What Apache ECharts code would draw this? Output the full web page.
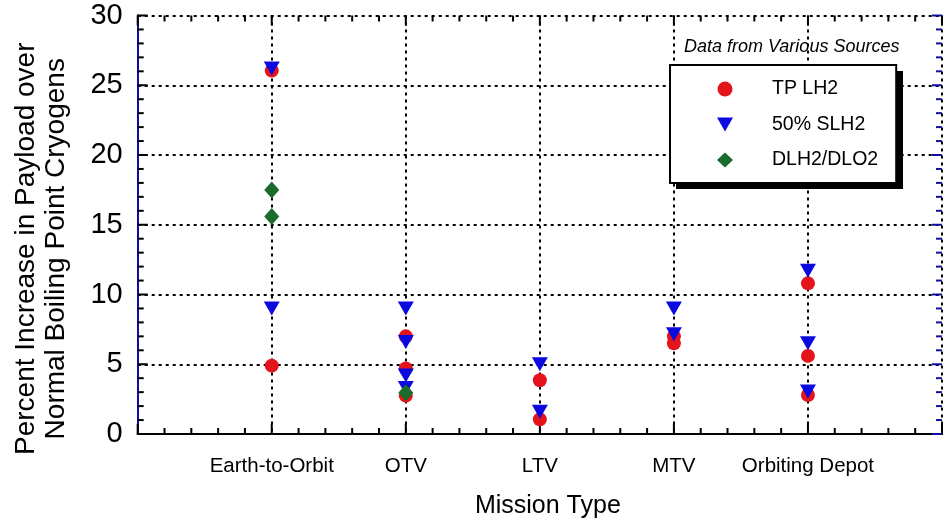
<!DOCTYPE html>
<html>
<head>
<meta charset="utf-8">
<script src="https://cdn.jsdelivr.net/npm/echarts@6/dist/echarts.min.js"></script>
<style>html,body{margin:0;padding:0;background:#fff}#c{width:944px;height:519px}</style>
</head>
<body>
<div id="c"></div>
<script>
const categories = ['Earth-to-Orbit', 'OTV', 'LTV', 'MTV', 'Orbiting Depot'];
const yTicks = [0, 5, 10, 15, 20, 25, 30];

const tpCat = ['Earth-to-Orbit','Earth-to-Orbit','OTV','OTV','OTV','LTV','LTV','MTV','MTV','Orbiting Depot','Orbiting Depot','Orbiting Depot'];
const tpVal = [26.05, 4.9, 7.0, 4.7, 2.75, 3.85, 1.05, 7.0, 6.5, 10.8, 5.6, 2.8];

const slhCat = ['Earth-to-Orbit','Earth-to-Orbit','OTV','OTV','OTV','OTV','LTV','LTV','MTV','MTV','Orbiting Depot','Orbiting Depot','Orbiting Depot'];
const slhVal = [26.2, 9.0, 9.0, 6.6, 4.2, 3.3, 5.0, 1.6, 9.0, 7.15, 11.7, 6.5, 3.05];

const dCat = ['Earth-to-Orbit','Earth-to-Orbit','OTV'];
const dVal = [17.5, 15.6, 2.95];

const seriesNames = ['TP LH2', '50% SLH2', 'DLH2/DLO2'];

function pts(cats, vals) {
  return cats.map((c, i) => [categories.indexOf(c) + 1, vals[i]]);
}

const FONT = '"Liberation Sans", Arial, sans-serif';
const chart = echarts.init(document.getElementById('c'), null, {renderer: 'canvas'});

const X_MIN = 0, X_MAX = categories.length + 1;
const Y_MIN = 0, Y_MAX = 30, Y_STEP = 5;
const X_MINOR = 5, Y_MINOR = 5;
const BLUE_AX = '#1010a0';

const gridLine = {show: true, lineStyle: {color: '#000', width: 2, type: [3, 4]}};
const noTick = {axisTick: {show: false}, minorTick: {show: false}};

// inward-pointing axis ticks drawn on the main coordinate system
function renderTicks(params, api) {
  const children = [];
  const MAJ = 10, MIN = 6;
  function seg(p1, p2, color) {
    children.push({type: 'line', shape: {x1: p1[0], y1: p1[1], x2: p2[0], y2: p2[1]},
      style: {stroke: color, lineWidth: 2}});
  }
  const nx = (X_MAX - X_MIN) * X_MINOR;
  for (let i = 0; i <= nx; i++) {
    const v = X_MIN + i / X_MINOR;
    const len = (i % X_MINOR === 0) ? MAJ : MIN;
    const b = api.coord([v, Y_MIN]);
    const t = api.coord([v, Y_MAX]);
    seg(b, [b[0], b[1] - len], '#000');
    seg(t, [t[0], t[1] + len], '#000');
  }
  const ny = (Y_MAX - Y_MIN) / Y_STEP * Y_MINOR;
  for (let i = 0; i <= ny; i++) {
    const v = Y_MIN + i * Y_STEP / Y_MINOR;
    const len = (i % Y_MINOR === 0) ? MAJ : MIN;
    const l = api.coord([X_MIN, v]);
    const r = api.coord([X_MAX, v]);
    seg(l, [l[0] + len, l[1]], '#000');
    seg(r, [r[0] - len, r[1]], BLUE_AX);
  }
  return {type: 'group', children: children};
}

const LEG_L = 670, LEG_T = 65, LEG_W = 227, LEG_H = 118, SH = 6;

chart.setOption({
  animation: false,
  backgroundColor: '#fff',
  title: {
    text: 'Data from Various Sources',
    left: 684, top: 38, padding: 0,
    textStyle: {fontFamily: FONT, fontStyle: 'italic', fontWeight: 'normal', fontSize: 18, color: '#000'}
  },
  graphic: [{
    type: 'rect', z: 1, silent: true,
    shape: {x: LEG_L + SH, y: LEG_T + SH, width: LEG_W, height: LEG_H},
    style: {fill: '#000'}
  }],
  legend: {
    data: seriesNames,
    orient: 'vertical',
    left: LEG_L, top: LEG_T,
    padding: [14, 18, 13, 47],
    itemGap: 15.5,
    itemWidth: 16, itemHeight: 15,
    backgroundColor: '#fff',
    borderColor: '#000', borderWidth: 2,
    z: 5,
    textStyle: {fontFamily: FONT, fontSize: 19.5, color: '#000', padding: [0, 0, 0, 34]}
  },
  grid: {left: 137.7, right: 2, top: 15.5, bottom: 85, containLabel: false, outerBoundsMode: 'none'},
  xAxis: [
    Object.assign({
      type: 'value', min: X_MIN, max: X_MAX, interval: 1, position: 'bottom',
      axisLine: {show: true, lineStyle: {color: '#000', width: 2}},
      splitLine: gridLine,
      name: 'Mission Type', nameLocation: 'middle', nameGap: 60,
      nameTextStyle: {fontFamily: FONT, fontSize: 25, color: '#000', padding: [0, 0, 0, 16]},
      axisLabel: {
        show: true, margin: 22, fontFamily: FONT, fontSize: 20.5, color: '#000',
        formatter: v => (v >= 1 && v <= categories.length) ? categories[v - 1] : ''
      }
    }, noTick),
    Object.assign({
      type: 'value', min: X_MIN, max: X_MAX, interval: 1, position: 'top',
      axisLine: {show: true, lineStyle: {color: '#000', width: 2}},
      axisLabel: {show: false}, splitLine: {show: false}
    }, noTick)
  ],
  yAxis: [
    Object.assign({
      type: 'value', min: Y_MIN, max: Y_MAX, interval: Y_STEP, position: 'left',
      axisLine: {show: true, lineStyle: {color: '#000', width: 2}},
      splitLine: gridLine,
      axisLabel: {
        margin: 15, fontFamily: FONT, fontSize: 29, color: '#000',
        formatter: v => yTicks.includes(v) ? String(v) : ''
      },
      name: 'Percent Increase in Payload over\nNormal Boiling Point Cryogens',
      nameLocation: 'middle', nameGap: 66, nameRotate: 90,
      nameTextStyle: {fontFamily: FONT, fontSize: 28, color: '#000', lineHeight: 30, align: 'center', padding: [0, 48, 0, 0]}
    }, noTick),
    Object.assign({
      type: 'value', min: Y_MIN, max: Y_MAX, interval: Y_STEP, position: 'right',
      axisLine: {show: true, lineStyle: {color: BLUE_AX, width: 2}},
      splitLine: {show: false}, axisLabel: {show: false}
    }, noTick)
  ],
  series: [
    {
      name: 'axisTicks', type: 'custom', xAxisIndex: 0, yAxisIndex: 0,
      silent: true, clip: false, z: 2,
      renderItem: renderTicks,
      data: [[X_MIN, Y_MIN]]
    },
    {
      name: seriesNames[0], type: 'scatter', symbol: 'circle', symbolSize: 14,
      xAxisIndex: 0, yAxisIndex: 0,
      itemStyle: {color: '#e3141b', opacity: 1},
      data: pts(tpCat, tpVal), z: 3
    },
    {
      name: seriesNames[1], type: 'scatter', symbol: 'path://M0,0 L16,0 L8,14 Z', symbolSize: [16, 14],
      xAxisIndex: 0, yAxisIndex: 0,
      itemStyle: {color: '#0a0ae0', opacity: 1},
      data: pts(slhCat, slhVal), z: 4
    },
    {
      name: seriesNames[2], type: 'scatter', symbol: 'diamond', symbolSize: [15, 17],
      xAxisIndex: 0, yAxisIndex: 0,
      itemStyle: {color: '#1b6b2b', opacity: 1},
      data: pts(dCat, dVal), z: 5
    }
  ]
});
</script>
</body>
</html>
